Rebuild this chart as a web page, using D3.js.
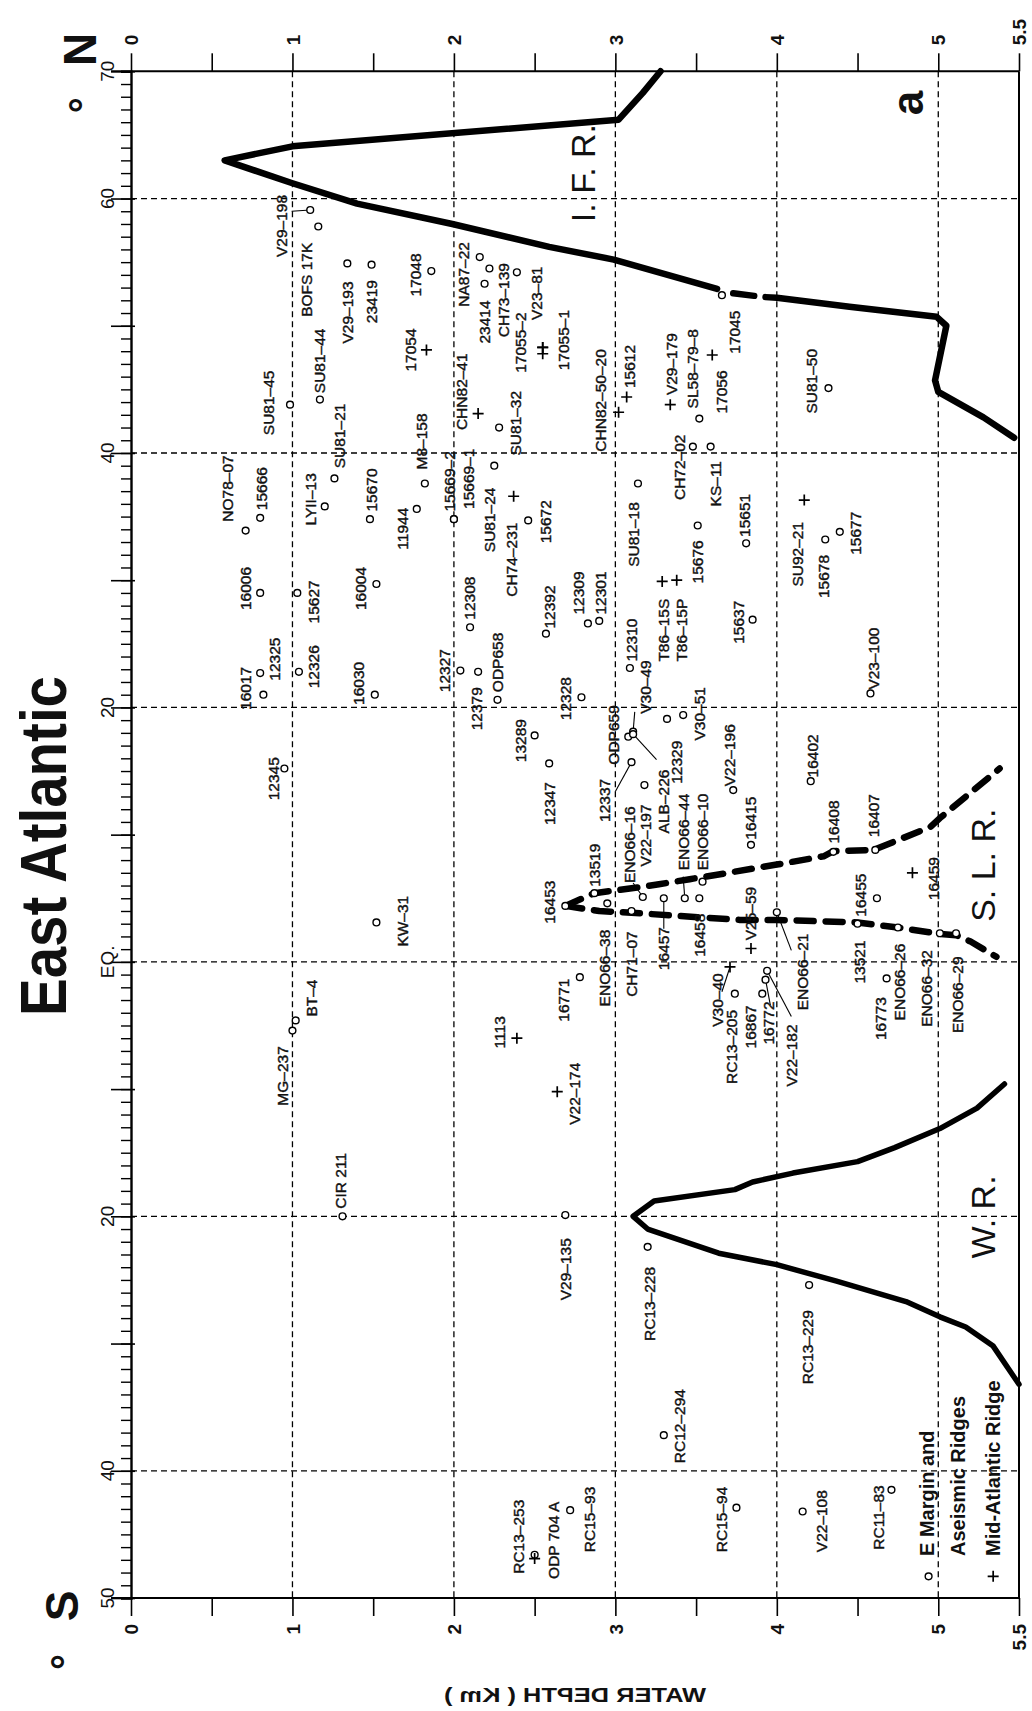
<!DOCTYPE html>
<html>
<head>
<meta charset="utf-8">
<script src="https://cdn.jsdelivr.net/npm/d3@7"></script>
<style>
  body { margin: 0; background: #fff; }
  svg text { font-family: "Liberation Sans", Arial, sans-serif; fill: #111; }
</style>
</head>
<body>
<svg id="chart" width="1032" height="1711"></svg>
<script>
// East Atlantic: core sites by water depth (km) and latitude (deg, S negative)

const depthTicks = d3.range(0, 5.51, 0.5);
const depthLabels = [0, 1, 2, 3, 4, 5, 5.5];
const gridDepths = [1, 2, 3, 4, 5];
const gridLats = [60, 40, 20, 0, -20, -40];
const latLabels = [70, 60, 40, 20, 0, -20, -40, -50];

// E margin and aseismic ridges (open circles): [name, depth, lat]
const marginSites = [
  ["V29-198", 1.11, 59.1], ["BOFS 17K", 1.16, 57.8], ["SU81-45", 0.985, 43.8],
  ["SU81-44", 1.17, 44.2], ["V29-193", 1.34, 54.9], ["23419", 1.49, 54.8],
  ["17048", 1.86, 54.3], ["NA87-22", 2.16, 55.4], ["23414", 2.19, 53.3],
  ["", 2.22, 54.5], ["CH73-139", 2.39, 54.2], ["SU81-21", 1.26, 38.0],
  ["LYII-13", 1.20, 35.8], ["NO78-07", 0.71, 33.9], ["15666", 0.80, 34.9],
  ["15670", 1.48, 34.8], ["11944", 1.77, 35.6], ["M8-158", 1.82, 37.6],
  ["15669-2", 2.0, 34.8], ["15669-1", 2.0, 34.8], ["SU81-32", 2.28, 42.0],
  ["SU81-24", 2.25, 39.0], ["15672", 2.46, 34.7], ["16006", 0.80, 29.0],
  ["15627", 1.03, 29.0], ["16004", 1.52, 29.7], ["12308", 2.10, 26.3],
  ["12392", 2.57, 25.8], ["12309", 2.83, 26.6], ["12301", 2.90, 26.8],
  ["SU81-18", 3.14, 37.6], ["CH72-02", 3.48, 40.5], ["SL58-79-8", 3.52, 42.7],
  ["KS-11", 3.59, 40.5], ["17045", 3.66, 52.4], ["15676", 3.51, 34.3],
  ["15651", 3.81, 32.9], ["SU81-50", 4.32, 45.1], ["15678", 4.30, 33.2],
  ["15677", 4.39, 33.8], ["15637", 3.85, 26.9], ["V23-100", 4.58, 21.1],
  ["16017", 0.82, 21.0], ["12325", 0.80, 22.7], ["12326", 1.04, 22.8],
  ["16030", 1.51, 21.0], ["12327", 2.04, 22.9], ["12379", 2.15, 22.8],
  ["ODP658", 2.27, 20.6], ["12345", 0.95, 15.2], ["13289", 2.50, 17.8],
  ["KW-31", 1.52, 3.1], ["BT-4", 1.02, -4.6], ["MG-237", 1.0, -5.4],
  ["CIR 211", 1.31, -20.0], ["V29-135", 2.69, -19.9], ["12328", 2.79, 20.8],
  ["12310", 3.09, 23.1], ["12347", 2.59, 15.6], ["12337", 3.10, 15.7],
  ["ODP659", 3.08, 17.7], ["V30-49", 3.11, 18.1], ["ALB-226", 3.11, 17.9],
  ["12329", 3.32, 19.1], ["V30-51", 3.42, 19.4], ["V22-197", 3.18, 13.9],
  ["ENO66-16", 3.17, 5.1], ["V22-196", 3.73, 13.5], ["16415", 3.84, 9.2],
  ["RC13-205", 3.74, -2.5], ["16867", 3.91, -2.5], ["16772", 3.93, -1.4],
  ["V22-182", 3.94, -0.7], ["ENO66-21", 4.0, 3.9], ["16408", 4.35, 8.65],
  ["16407", 4.61, 8.8], ["16402", 4.21, 14.2], ["16455", 4.62, 5.0],
  ["13521", 4.50, 3.0], ["16773", 4.68, -1.3], ["ENO66-26", 4.75, 2.7],
  ["ENO66-32", 5.01, 2.25], ["ENO66-29", 5.11, 2.25], ["16453", 2.69, 4.4],
  ["16771", 2.78, -1.2], ["13519", 2.87, 5.4], ["ENO66-38", 2.95, 4.6],
  ["CH71-07", 3.10, 4.0], ["16457", 3.30, 5.0], ["ENO66-44", 3.43, 5.0],
  ["16458", 3.52, 5.0], ["ENO66-10", 3.54, 6.3], ["RC13-253", 2.50, -46.6],
  ["RC15-93", 2.72, -43.1], ["RC15-94", 3.75, -42.9], ["RC12-294", 3.30, -37.2],
  ["V22-108", 4.16, -43.2], ["RC11-83", 4.71, -41.5], ["RC13-229", 4.20, -25.4],
  ["RC13-228", 3.20, -22.4]
];

// Mid-Atlantic Ridge (plus signs): [name, depth, lat]
const ridgeSites = [
  ["17054", 1.83, 48.1], ["V23-81", 2.55, 48.3], ["17055-2", 2.55, 48.3],
  ["17055-1", 2.55, 47.8], ["CHN82-41", 2.15, 43.1], ["CH74-231", 2.37, 36.6],
  ["CHN82-50-20", 3.02, 43.2], ["15612", 3.07, 44.4], ["V29-179", 3.34, 43.8],
  ["17056", 3.60, 47.7], ["SU92-21", 4.17, 36.3], ["T86-15S", 3.29, 29.9],
  ["T86-15P", 3.38, 30.0], ["1113", 2.39, -6.0], ["V22-174", 2.64, -10.2],
  ["V25-59", 3.84, 1.05], ["V30-40", 3.71, -0.4], ["16459", 4.84, 7.0],
  ["ODP 704 A", 2.50, -46.9]
];

// where each name is written: [name, depth, lat of the text start]
const labelSpots = [
  ["V29-198", 0.93, 55.4], ["BOFS 17K", 1.09, 50.7], ["SU81-45", 0.85, 41.4],
  ["SU81-44", 1.17, 44.7], ["V29-193", 1.34, 48.6], ["23419", 1.49, 50.2],
  ["17048", 1.76, 52.3], ["17054", 1.73, 46.4], ["NA87-22", 2.06, 51.5],
  ["23414", 2.19, 48.6], ["CH73-139", 2.31, 49.1], ["V23-81", 2.51, 50.45],
  ["17055-2", 2.41, 46.3], ["17055-1", 2.68, 46.5], ["SU81-21", 1.29, 38.8],
  ["LYII-13", 1.11, 34.3], ["NO78-07", 0.60, 34.6], ["15666", 0.81, 35.5],
  ["15670", 1.49, 35.4], ["11944", 1.68, 32.4], ["M8-158", 1.80, 38.7],
  ["15669-2", 1.975, 35.4], ["15669-1", 2.09, 35.6], ["CHN82-41", 2.05, 41.8],
  ["SU81-32", 2.38, 39.8], ["SU81-24", 2.22, 32.2], ["CH74-231", 2.36, 28.7],
  ["15672", 2.57, 32.9], ["16006", 0.71, 27.65], ["15627", 1.13, 26.6],
  ["16004", 1.42, 27.65], ["12308", 2.10, 26.9], ["12392", 2.59, 26.2],
  ["12309", 2.77, 27.3], ["12301", 2.91, 27.3], ["CHN82-50-20", 2.91, 40.1],
  ["15612", 3.09, 45.1], ["SU81-18", 3.11, 31.05], ["V29-179", 3.35, 44.55],
  ["CH72-02", 3.40, 36.3], ["SL58-79-8", 3.48, 43.5], ["17056", 3.66, 43.1],
  ["KS-11", 3.62, 35.8], ["17045", 3.74, 47.8], ["15676", 3.51, 29.75],
  ["15651", 3.80, 33.4], ["SU81-50", 4.215, 43.1], ["SU92-21", 4.13, 29.5],
  ["15678", 4.29, 28.6], ["15677", 4.49, 32.0], ["15637", 3.76, 25.0],
  ["T86-15S", 3.30, 23.6], ["T86-15P", 3.41, 23.6], ["V23-100", 4.60, 21.4],
  ["16017", 0.71, 19.8], ["12325", 0.89, 22.1], ["12326", 1.13, 21.5],
  ["16030", 1.41, 20.2], ["12327", 1.94, 21.2], ["12379", 2.14, 18.2],
  ["ODP658", 2.27, 21.2], ["12345", 0.88, 12.7], ["13289", 2.41, 15.7],
  ["KW-31", 1.68, 1.2], ["BT-4", 1.12, -4.3], ["MG-237", 0.94, -11.3],
  ["1113", 2.285, -6.8], ["V22-174", 2.75, -12.8], ["CIR 211", 1.30, -19.4],
  ["V29-135", 2.69, -26.6], ["12347", 2.59, 10.75], ["12328", 2.69, 19.0],
  ["12310", 3.10, 23.6], ["12337", 2.935, 11.0], ["ODP659", 2.99, 15.5],
  ["V30-49", 3.19, 19.5], ["12329", 3.38, 14.0], ["V30-51", 3.52, 17.4],
  ["ALB-226", 3.30, 10.1], ["V22-197", 3.19, 7.5], ["ENO66-16", 3.09, 6.2],
  ["13519", 2.87, 5.9], ["16453", 2.59, 3.0], ["ENO66-44", 3.42, 7.2],
  ["ENO66-10", 3.54, 7.2], ["V22-196", 3.71, 13.8], ["16415", 3.84, 9.6],
  ["V25-59", 3.84, 1.7], ["ENO66-38", 2.935, -3.5], ["CH71-07", 3.10, -2.75],
  ["16457", 3.30, -0.65], ["16458", 3.52, 0.4], ["V30-40", 3.63, -5.1],
  ["RC13-205", 3.72, -9.6], ["16867", 3.84, -6.8], ["16772", 3.95, -6.5],
  ["V22-182", 4.09, -9.8], ["ENO66-21", 4.16, -3.8], ["16408", 4.35, 9.3],
  ["16407", 4.60, 9.8], ["16402", 4.22, 14.5], ["16455", 4.52, 3.55],
  ["13521", 4.51, -1.7], ["16773", 4.64, -6.15], ["ENO66-26", 4.76, -4.6],
  ["ENO66-32", 4.93, -5.1], ["ENO66-29", 5.12, -5.6], ["16459", 4.97, 4.85],
  ["16771", 2.68, -4.7], ["RC13-228", 3.21, -29.8], ["RC13-229", 4.19, -33.2],
  ["RC12-294", 3.40, -39.4], ["RC15-94", 3.66, -46.4], ["V22-108", 4.28, -46.4],
  ["RC11-83", 4.63, -46.2], ["RC13-253", 2.40, -48.1], ["ODP 704 A", 2.62, -48.5],
  ["RC15-93", 2.84, -46.4]
];

// leader lines: [name, depth, lat] of the end near the label
const leaders = [
  ["V29-198", 0.995, 59.0], ["12337", 3.0, 13.4], ["ALB-226", 3.255, 15.9],
  ["V30-49", 3.12, 19.65], ["ENO66-16", 3.11, 6.2], ["ENO66-44", 3.42, 6.7],
  ["16457", 3.30, 2.6], ["V30-40", 3.66, -2.35], ["V22-182", 4.09, -4.3],
  ["16772", 3.96, -3.4], ["ENO66-21", 4.09, 0.9]
];

// ridge crest outlines: [depth, lat]
const ifrNorth = [[3.28, 70], [3.17, 68.3], [3.02, 66.2], [1.0, 64.1], [0.58, 63.0],
  [1.0, 61.2], [1.40, 59.6], [1.99, 58.0], [2.59, 56.2], [2.99, 55.2], [3.63, 52.9]];
const ifrBreak = [[3.73, 52.55], [3.86, 52.35]];
const ifrSouth = [[3.93, 52.25], [4.0, 52.2], [4.45, 51.5], [4.99, 50.7], [5.05, 50.0],
  [4.98, 45.7], [5.0, 44.8], [5.28, 42.8], [5.47, 41.2]];
const slrUpper = [[2.69, 4.4], [2.87, 5.4], [3.17, 5.9], [3.27, 6.1], [3.46, 6.5],
  [3.56, 6.7], [4.0, 7.65], [4.29, 8.3], [4.35, 8.7], [4.60, 8.8], [4.95, 10.6],
  [5.01, 11.3], [5.38, 15.2]];
const slrLower = [[2.69, 4.4], [2.90, 4.0], [3.17, 3.8], [3.77, 3.3], [4.0, 3.3],
  [4.50, 3.1], [4.75, 2.7], [5.01, 2.2], [5.11, 2.1], [5.2, 1.6], [5.36, 0.4]];
const wrCrest = [[5.41, -9.6], [5.24, -11.5], [5.01, -13.1], [4.73, -14.6], [4.50, -15.7],
  [4.10, -16.6], [3.85, -17.3], [3.74, -17.9], [3.24, -18.8], [3.11, -20.0],
  [3.20, -21.0], [3.64, -22.9], [4.0, -23.8], [4.37, -25.1], [4.80, -26.7],
  [5.01, -27.9], [5.17, -28.7], [5.34, -30.2], [5.5, -33.2]];

const ridgeNames = [["I. F. R.", 2.80, 62.0], ["S. L. R.", 5.28, 7.6], ["W. R.", 5.28, -20.05]];

const svg = d3.select("#chart");
const x = d3.scaleLinear().domain([0, 5.5]).range([131, 1019]);
const y = d3.scaleLinear().domain([70, -50]).range([71.3, 1598]);

const dash = (s) => s.replace(/-/g, "\u2013");

// vertical text reading bottom to top
function upText(g, px, py, str, anchor, size, weight) {
  return g
    .append("text")
    .attr("transform", `translate(${px},${py}) rotate(-90)`)
    .attr("dy", "0.35em")
    .attr("text-anchor", anchor)
    .attr("font-size", size)
    .attr("font-weight", weight || "normal")
    .text(str);
}

// grid
const gridG = svg.append("g").attr("stroke", "#000").attr("stroke-width", 1.3)
  .attr("stroke-dasharray", "6,4");
gridG.selectAll("line.v").data(gridDepths).join("line").attr("class", "v")
  .attr("x1", (d) => x(d)).attr("x2", (d) => x(d))
  .attr("y1", y(70)).attr("y2", y(-50));
gridG.selectAll("line.h").data(gridLats).join("line").attr("class", "h")
  .attr("x1", x(0)).attr("x2", x(5.5))
  .attr("y1", (d) => y(d)).attr("y2", (d) => y(d));

// axes
const fmt = (d) => (depthLabels.includes(d) ? String(d) : "");
const topG = svg.append("g").attr("transform", `translate(0,${y(70)})`)
  .call(d3.axisTop(x).tickValues(depthTicks).tickSize(18).tickFormat(fmt));
const botG = svg.append("g").attr("transform", `translate(0,${y(-50)})`)
  .call(d3.axisBottom(x).tickValues(depthTicks).tickSize(18).tickFormat(fmt));
[topG, botG].forEach((g, i) => {
  g.select(".domain").attr("stroke-width", 2).attr("d", `M${x(0) - 20},0H${x(5.5)}`);
  g.selectAll(".tick line").attr("stroke-width", 1.6);
  g.selectAll("text")
    .attr("y", 0)
    .attr("x", i === 0 ? 26 : -26)
    .attr("dy", "0.35em")
    .attr("transform", "rotate(-90)")
    .attr("text-anchor", i === 0 ? "start" : "end")
    .attr("font-size", 19)
    .attr("font-weight", "bold")
    .attr("font-family", "Liberation Sans, Arial, sans-serif")
    .attr("fill", "#111");
});

const leftMinor = svg.append("g").attr("transform", `translate(${x(0)},0)`)
  .call(d3.axisLeft(y).tickValues(d3.range(-50, 71, 1)).tickSize(10).tickFormat(""));
leftMinor.select(".domain").attr("stroke-width", 2.4);
leftMinor.selectAll(".tick line").attr("stroke-width", 1.4);
const leftMajor = svg.append("g").attr("transform", `translate(${x(0) + 4},0)`)
  .call(d3.axisLeft(y).tickValues(d3.range(-50, 71, 10)).tickSize(24).tickFormat(""));
leftMajor.select(".domain").remove();
leftMajor.selectAll(".tick line").attr("stroke-width", 1.6);

svg.append("line")
  .attr("x1", x(5.5)).attr("x2", x(5.5))
  .attr("y1", y(70)).attr("y2", y(-50))
  .attr("stroke", "#000").attr("stroke-width", 2);

// latitude labels
const labG = svg.append("g");
latLabels.forEach((v) => {
  upText(labG, 107, y(v), v === 0 ? "EQ." : String(Math.abs(v)), "middle", 19);
});
upText(labG, 80, y(70) - 22, "N", "middle", 46, "bold");
upText(labG, 84, y(70) + 34, "\u00b0", "middle", 40, "bold");
upText(labG, 62, y(-50) + 8, "S", "middle", 46, "bold");
upText(labG, 66, y(-50) + 64, "\u00b0", "middle", 40, "bold");

upText(labG, 44, 846, "East Atlantic", "middle", 64, "bold")
  .attr("textLength", 340).attr("lengthAdjust", "spacingAndGlyphs");

labG.append("text")
  .attr("transform", `translate(${(x(0) + x(5.5)) / 2},1695) scale(-1,1)`)
  .attr("dy", "0.35em")
  .attr("text-anchor", "middle")
  .attr("font-size", 20)
  .attr("font-weight", "bold")
  .attr("textLength", 262).attr("lengthAdjust", "spacingAndGlyphs")
  .text("WATER DEPTH ( Km )");

upText(labG, x(4.81), y(67.5), "a", "middle", 44, "bold");

// ridge crests
const line = d3.line().x((d) => x(d[0])).y((d) => y(d[1]));
const crestG = svg.append("g").attr("fill", "none").attr("stroke", "#000")
  .attr("stroke-linejoin", "round");
[ifrNorth, ifrBreak, ifrSouth].forEach((pts) => {
  crestG.append("path").attr("d", line(pts)).attr("stroke-width", 6.5)
    .attr("stroke-linecap", "round");
});
crestG.append("path").attr("d", line(wrCrest)).attr("stroke-width", 5.5)
  .attr("stroke-linecap", "round");
[slrUpper, slrLower].forEach((pts) => {
  crestG.append("path").attr("d", line(pts)).attr("stroke-width", 6.5)
    .attr("stroke-linecap", "round").attr("stroke-dasharray", "17,12");
});

ridgeNames.forEach(([t, d, l]) => upText(labG, x(d), y(l), t, "middle", 34));

// leader lines
const allSites = new Map([...marginSites, ...ridgeSites].map((s) => [s[0], s]));
svg.append("g").attr("stroke", "#000").attr("stroke-width", 1.1)
  .selectAll("line").data(leaders).join("line")
  .attr("x1", (d) => x(d[1])).attr("y1", (d) => y(d[2]))
  .attr("x2", (d) => x(allSites.get(d[0])[1]))
  .attr("y2", (d) => y(allSites.get(d[0])[2]));

// markers
svg.append("g").selectAll("circle").data(marginSites).join("circle")
  .attr("cx", (d) => x(d[1])).attr("cy", (d) => y(d[2])).attr("r", 3.4)
  .attr("fill", "#fff").attr("stroke", "#000").attr("stroke-width", 1.4);
svg.append("g").selectAll("path").data(ridgeSites).join("path")
  .attr("transform", (d) => `translate(${x(d[1])},${y(d[2])})`)
  .attr("d", "M-5.5,0H5.5M0,-5.5V5.5")
  .attr("stroke", "#000").attr("stroke-width", 1.7);

// site names
const nameG = svg.append("g").attr("stroke", "#111").attr("stroke-width", 0.4);
labelSpots.forEach(([n, d, l]) => upText(nameG, x(d), y(l), dash(n), "start", 15.5));

// legend
const legG = svg.append("g");
legG.append("circle").attr("cx", x(4.94)).attr("cy", y(-48.3)).attr("r", 3.4)
  .attr("fill", "#fff").attr("stroke", "#000").attr("stroke-width", 1.4);
legG.append("path").attr("transform", `translate(${x(5.34)},${y(-48.3)})`)
  .attr("d", "M-5.5,0H5.5M0,-5.5V5.5").attr("stroke", "#000").attr("stroke-width", 1.7);
upText(legG, x(4.93), y(-46.7), "E Margin and", "start", 20, "bold");
upText(legG, x(5.12), y(-46.7), "Aseismic Ridges", "start", 20, "bold");
upText(legG, x(5.34), y(-46.7), "Mid-Atlantic Ridge", "start", 20, "bold");
</script>
</body>
</html>
